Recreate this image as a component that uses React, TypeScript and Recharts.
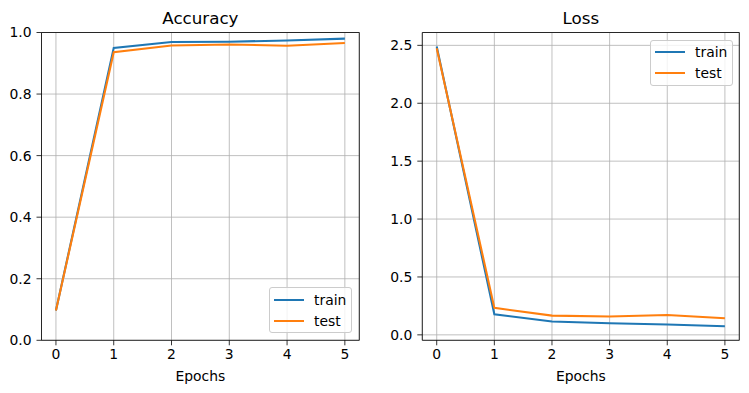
import {
  CartesianGrid,
  Legend,
  Line,
  LineChart,
  ReferenceArea,
  XAxis,
  YAxis,
} from "recharts";

const epochs = [0, 1, 2, 3, 4, 5];
const accTrain = [0.097, 0.95, 0.969, 0.97, 0.974, 0.98];
const accTest = [0.097, 0.936, 0.958, 0.961, 0.957, 0.966];
const lossTrain = [2.49, 0.178, 0.115, 0.1, 0.089, 0.074];
const lossTest = [2.475, 0.233, 0.166, 0.158, 0.172, 0.143];
const accTicks = [0, 0.2, 0.4, 0.6, 0.8, 1.0];
const lossTicks = [0, 0.5, 1.0, 1.5, 2.0, 2.5];
const seriesOrder = ["train", "test"];

const FONT = "'DejaVu Sans', sans-serif";
const BLUE = "#1f77b4";
const ORANGE = "#ff7f0e";
const tickStyle = { fill: "#000", fontSize: 13.9, fontFamily: FONT };

const accData = epochs.map((e, i) => ({ epoch: e, train: accTrain[i], test: accTest[i] }));
const lossData = epochs.map((e, i) => ({ epoch: e, train: lossTrain[i], test: lossTest[i] }));

const LegendBox = ({ payload }: any) => {
  // keep matplotlib's plotting order, recharts sorts by name
  const items = [...(payload || [])].sort(
    (a: any, b: any) => seriesOrder.indexOf(a.value) - seriesOrder.indexOf(b.value)
  );
  return (
    <div
      style={{
        width: 83,
        height: 46,
        boxSizing: "border-box",
        background: "rgba(255,255,255,0.8)",
        border: "1px solid #cccccc",
        borderRadius: 3,
        padding: "3.5px 0 0 4px",
        fontFamily: FONT,
        fontSize: 13.9,
        color: "#000",
      }}
    >
      {items.map((p: any, i: number) => (
        <div
          key={p.value}
          style={{ display: "flex", alignItems: "center", height: 16, marginTop: i ? 5 : 0 }}
        >
          <span
            style={{ flexShrink: 0, width: 30, height: 2, background: p.color, marginRight: 10 }}
          />
          <span>{p.value}</span>
        </div>
      ))}
    </div>
  );
};

interface PanelProps {
  data: { epoch: number; train: number; test: number }[];
  yDomain: [number, number];
  yTicks: number[];
  width: number;
  yAxisWidth: number;
  rightMargin: number;
  legendPos: { left: number; top: number };
}

const Panel = ({ data, yDomain, yTicks, width, yAxisWidth, rightMargin, legendPos }: PanelProps) => (
  <LineChart
    width={width}
    height={393}
    data={data}
    margin={{ top: 32.5, right: rightMargin, bottom: 0, left: 0 }}
  >
    <CartesianGrid stroke="#b0b0b0" strokeWidth={0.8} />
    <XAxis
      dataKey="epoch"
      type="number"
      domain={[-0.25, 5.25]}
      ticks={epochs}
      allowDataOverflow
      height={52.7}
      tick={tickStyle}
      tickSize={5}
      tickMargin={4}
      axisLine={false}
      tickLine={{ stroke: "#000", strokeWidth: 0.8 }}
      label={{
        value: "Epochs",
        position: "insideBottom",
        offset: 12.5,
        style: { fill: "#000", fontSize: 13.9, fontFamily: FONT },
      }}
    />
    <YAxis
      type="number"
      domain={yDomain}
      ticks={yTicks}
      allowDataOverflow
      width={yAxisWidth}
      tick={tickStyle}
      tickSize={5}
      tickMargin={5}
      axisLine={false}
      tickLine={{ stroke: "#000", strokeWidth: 0.8 }}
      tickFormatter={(v: number) => v.toFixed(1)}
    />
    <Line
      type="linear"
      dataKey="train"
      name="train"
      stroke={BLUE}
      strokeWidth={2.08}
      dot={false}
      isAnimationActive={false}
    />
    <Line
      type="linear"
      dataKey="test"
      name="test"
      stroke={ORANGE}
      strokeWidth={2.08}
      dot={false}
      isAnimationActive={false}
    />
    <ReferenceArea
      x1={-0.25}
      x2={5.25}
      y1={yDomain[0]}
      y2={yDomain[1]}
      fill="none"
      stroke="#000"
      strokeWidth={0.8}
      ifOverflow="visible"
    />
    <Legend
      layout="horizontal"
      align="center"
      verticalAlign="middle"
      content={<LegendBox />}
      wrapperStyle={{ left: legendPos.left, top: legendPos.top, width: 83 }}
    />
  </LineChart>
);

const titleStyle = {
  position: "absolute" as const,
  top: 10,
  width: 300,
  textAlign: "center" as const,
  fontFamily: FONT,
  fontSize: 16.7,
  lineHeight: "16.7px",
  color: "#000",
};

export default function App() {
  return (
    <div
      style={{
        position: "absolute",
        left: 0,
        top: 0,
        width: 749,
        height: 393,
        background: "#fff",
      }}
    >
      <div style={{ ...titleStyle, left: 200.4 - 150 }}>Accuracy</div>
      <div style={{ ...titleStyle, left: 580.8 - 150 }}>Loss</div>
      <div style={{ position: "absolute", left: 0, top: 0 }}>
        <Panel
          data={accData}
          yDomain={[0, 1]}
          yTicks={accTicks}
          width={370}
          yAxisWidth={41.5}
          rightMargin={10.7}
          legendPos={{ left: 269, top: 287 }}
        />
      </div>
      <div style={{ position: "absolute", left: 380, top: 0 }}>
        <Panel
          data={lossData}
          yDomain={[-0.047, 2.611]}
          yTicks={lossTicks}
          width={369}
          yAxisWidth={42.3}
          rightMargin={9.7}
          legendPos={{ left: 270, top: 39.5 }}
        />
      </div>
    </div>
  );
}
